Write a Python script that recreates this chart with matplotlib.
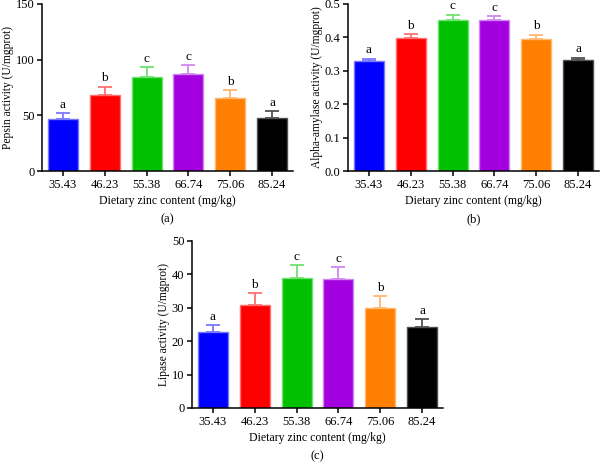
import matplotlib
matplotlib.use('Agg')
import matplotlib.pyplot as plt
import numpy as np

plt.rcParams['font.family'] = ['Liberation Serif', 'DejaVu Serif']

zinc = ['35.43', '46.23', '55.38', '66.74', '75.06', '85.24']
letters = ['a', 'b', 'c', 'c', 'b', 'a']

pepsin = [47, 68.5, 84, 87, 65.5, 48]
pepsin_err = [5, 7, 9, 8, 7, 5.5]

amylase = [0.328, 0.398, 0.453, 0.451, 0.396, 0.331]
amylase_err = [0.008, 0.012, 0.015, 0.013, 0.012, 0.008]

lipase = [22.7, 30.8, 39.0, 38.5, 30.0, 24.2]
lipase_err = [2.1, 3.5, 3.8, 3.6, 3.4, 2.4]

fill_colors = ['#0000FF', '#FF0000', '#00C000', '#A300E0', '#FF8000', '#000000']
edge_colors = ['#7878FF', '#FF7070', '#70E070', '#D088F0', '#FFB870', '#505050']


def draw_panel(ax, values, errs, ylim, yticks, ylabel, caption, fmt):
    x = np.arange(len(values))
    ax.bar(x, values, width=0.72, color=fill_colors, edgecolor=edge_colors,
           linewidth=1.0, zorder=2)
    for i in range(len(values)):
        ax.errorbar(x[i], values[i], yerr=[[0], [errs[i]]], fmt='none',
                    ecolor=edge_colors[i], elinewidth=1.3, capsize=5,
                    capthick=1.3, zorder=1)
        ax.text(x[i], values[i] + errs[i] + ylim[1] * 0.015, letters[i],
                ha='center', va='bottom', fontsize=9.5)
    ax.set_xlim(-0.5, 5.5)
    ax.set_ylim(ylim)
    ax.set_yticks(yticks)
    ax.set_yticklabels([fmt.format(t) for t in yticks])
    ax.set_xticks(x)
    ax.set_xticklabels(zinc)
    ax.spines['top'].set_visible(False)
    ax.spines['right'].set_visible(False)
    for s in ['left', 'bottom']:
        ax.spines[s].set_linewidth(1.1)
    ax.tick_params(axis='both', direction='out', length=3.5, width=1.1,
                   labelsize=9, pad=2)
    ax.set_xlabel('Dietary zinc content (mg/kg)', fontsize=8.5, labelpad=3)
    ax.set_ylabel(ylabel, fontsize=8.3, labelpad=1)
    ax.text(0.5, -0.29, caption, transform=ax.transAxes, ha='center',
            va='center', fontsize=9)


fig = plt.figure(figsize=(6.0, 4.63), dpi=100)
W = 251 / 600
H = 167 / 463
ax_a = fig.add_axes([42 / 600, (463 - 171) / 463, W, H])
ax_b = fig.add_axes([348 / 600, (463 - 171) / 463, W, H])
ax_c = fig.add_axes([192 / 600, (463 - 408) / 463, W, H])

draw_panel(ax_a, pepsin, pepsin_err, (0, 150), [0, 50, 100, 150],
           'Pepsin activity (U/mgprot)', '(a)', '{:.0f}')
draw_panel(ax_b, amylase, amylase_err, (0, 0.5), [0, 0.1, 0.2, 0.3, 0.4, 0.5],
           'Alpha-amylase activity (U/mgprot)', '(b)', '{:.1f}')
draw_panel(ax_c, lipase, lipase_err, (0, 50), [0, 10, 20, 30, 40, 50],
           'Lipase activity (U/mgprot)', '(c)', '{:.0f}')

fig.savefig('out.png', dpi=100)
